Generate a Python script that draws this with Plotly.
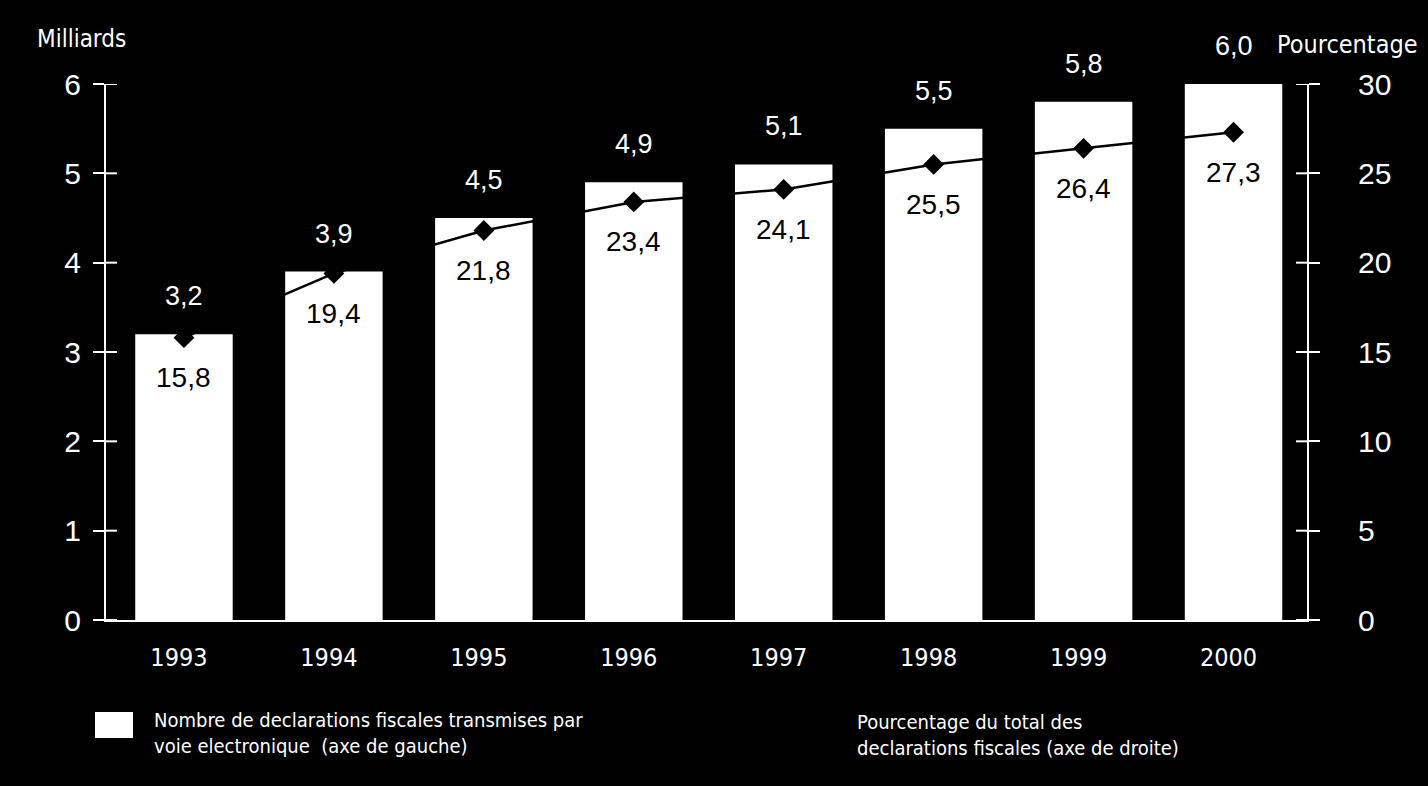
import plotly.graph_objects as go

years = ["1993", "1994", "1995", "1996", "1997", "1998", "1999", "2000"]
declarations_bn = [3.2, 3.9, 4.5, 4.9, 5.1, 5.5, 5.8, 6.0]
pct_of_total = [15.8, 19.4, 21.8, 23.4, 24.1, 25.5, 26.4, 27.3]
left_ticks = [0, 1, 2, 3, 4, 5, 6]
right_ticks = [0, 5, 10, 15, 20, 25, 30]

NUM_FONT = "Liberation Sans, Arial, sans-serif"
NARROW = "Liberation Sans Narrow, Arial Narrow, DejaVu Sans Condensed, sans-serif"

fig = go.Figure()
fig.add_trace(go.Bar(
    x=years, y=declarations_bn, width=0.65,
    marker=dict(color="white", line=dict(width=0)),
    showlegend=False, hoverinfo="skip",
))
fig.add_trace(go.Scatter(
    x=years, y=pct_of_total, yaxis="y2", mode="lines+markers",
    line=dict(color="black", width=2.5),
    marker=dict(symbol="diamond", size=16, color="black"),
    showlegend=False, hoverinfo="skip",
))

annotations = []
for i, v in enumerate(declarations_bn):
    annotations.append(dict(
        x=i, y=v, xref="x", yref="y", yshift=38, showarrow=False,
        text=f"{v:.1f}".replace(".", ","), yanchor="middle",
        font=dict(family=NUM_FONT, size=27, color="white"),
    ))
for i, p in enumerate(pct_of_total):
    annotations.append(dict(
        x=i, y=p, xref="x", yref="y2", yshift=-40, showarrow=False,
        text=f"{p:.1f}".replace(".", ","), yanchor="middle",
        font=dict(family=NUM_FONT, size=28, color="black"),
    ))

annotations += [
    dict(x=-0.0591, y=1.084, xref="paper", yref="paper", showarrow=False,
         xanchor="left", yanchor="middle", text="Milliards",
         font=dict(family=NARROW, size=24, color="white")),
    dict(x=0.9734, y=1.0746, xref="paper", yref="paper", showarrow=False,
         xanchor="left", yanchor="middle", text="Pourcentage",
         font=dict(family=NARROW, size=25, color="white")),
    dict(x=0.0383, y=-0.2108, xref="paper", yref="paper", showarrow=False,
         xanchor="left", yanchor="middle", align="left",
         text="Nombre de declarations fiscales transmises par<br>voie electronique  (axe de gauche)",
         font=dict(family=NARROW, size=20, color="white")),
    dict(x=0.6236, y=-0.2146, xref="paper", yref="paper", showarrow=False,
         xanchor="left", yanchor="middle", align="left",
         text="Pourcentage du total des<br>declarations fiscales (axe de droite)",
         font=dict(family=NARROW, size=20, color="white")),
]

shapes = [dict(type="rect", xref="paper", yref="paper",
               x0=-0.00916, x1=0.0225, y0=-0.1716, y1=-0.2201,
               fillcolor="white", line=dict(width=0))]
for t in left_ticks:
    shapes.append(dict(type="line", xref="paper", yref="y",
                       x0=0, x1=11 / 1201, y0=t, y1=t,
                       line=dict(color="white", width=2)))
for t in right_ticks:
    shapes.append(dict(type="line", xref="paper", yref="y2",
                       x0=1 - 11 / 1201, x1=1, y0=t, y1=t,
                       line=dict(color="white", width=2)))

fig.update_layout(
    width=1428, height=786,
    margin=dict(l=106, r=121, t=84, b=166),
    paper_bgcolor="black", plot_bgcolor="black",
    bargap=0.35,
    xaxis=dict(
        type="category", range=[-0.52, 7.49],
        showline=True, linecolor="white", linewidth=2,
        ticks="", showgrid=False, zeroline=False,
        tickfont=dict(family=NARROW, size=25, color="white"),
        ticklabelstandoff=14, ticklabelshift=-5,
    ),
    yaxis=dict(
        range=[0, 6], tickvals=left_ticks,
        showline=True, linecolor="white", linewidth=2,
        ticks="outside", ticklen=11, tickwidth=2, tickcolor="white",
        showgrid=False, zeroline=False,
        tickfont=dict(family=NUM_FONT, size=30, color="white"),
        ticklabelstandoff=6,
    ),
    yaxis2=dict(
        range=[0, 30], tickvals=right_ticks, overlaying="y", side="right",
        showline=True, linecolor="white", linewidth=2,
        ticks="outside", ticklen=11, tickwidth=2, tickcolor="white",
        showgrid=False, zeroline=False,
        tickfont=dict(family=NUM_FONT, size=30, color="white"),
        ticklabelstandoff=32,
    ),
    annotations=annotations,
    shapes=shapes,
    showlegend=False,
)

fig.write_html("out.html")
